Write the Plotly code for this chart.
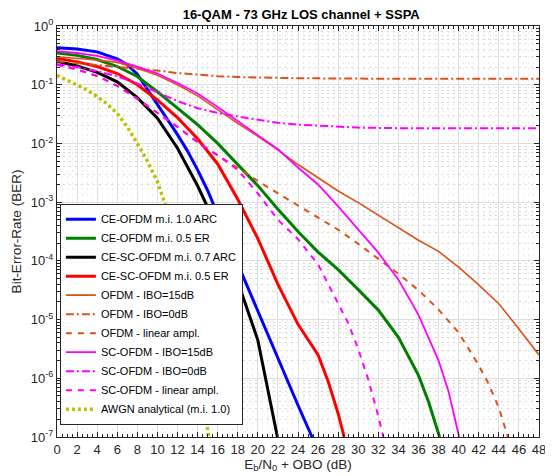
import plotly.graph_objects as go

# ---------------- data ----------------
x_ce_ofdm_arc = [0, 2, 4, 6, 7, 8, 9, 10, 11, 12, 13, 14, 15, 16, 17, 18, 20, 22, 24, 25.4]
ber_ce_ofdm_arc = [0.427, 0.407, 0.363, 0.275, 0.219, 0.151, 0.0832, 0.0468, 0.0263, 0.0141,
                   7.4e-3, 3.55e-3, 1.58e-3, 6.3e-4, 2.4e-4, 8.9e-5, 1.38e-5, 2.19e-6, 3.47e-7, 1e-7]

x_ce_ofdm_er = [0, 2, 4, 6, 8, 10, 12, 14, 16, 18, 20, 22, 24, 26, 28, 30, 32, 34, 36, 37, 38.1]
ber_ce_ofdm_er = [0.347, 0.316, 0.269, 0.204, 0.138, 0.0759, 0.0398, 0.0209, 0.01, 4.37e-3,
                  1.91e-3, 7.6e-4, 3.16e-4, 1.41e-4, 7.08e-5, 3.24e-5, 1.45e-5, 5.0e-6, 1.12e-6,
                  3.98e-7, 1e-7]

x_ce_sc_arc = [0, 2, 4, 6, 8, 10, 12, 14, 16, 18, 20, 21, 21.95]
ber_ce_sc_arc = [0.251, 0.209, 0.162, 0.112, 0.0603, 0.0269, 8.3e-3, 1.9e-3, 3.55e-4, 4.47e-5,
                 4.47e-6, 6.3e-7, 1e-7]

x_ce_sc_er = [0, 2, 4, 6, 8, 10, 12, 14, 16, 18, 20, 22, 24, 26, 27, 28, 28.6]
ber_ce_sc_er = [0.282, 0.245, 0.204, 0.155, 0.1, 0.055, 0.0275, 0.012, 4.47e-3, 1.12e-3,
                2.4e-4, 3.98e-5, 8.3e-6, 2.5e-6, 8.9e-7, 2.5e-7, 1e-7]

x_ofdm_ibo15 = [0, 2, 4, 6, 8, 10, 12, 14, 16, 18, 20, 22, 24, 26, 28, 30, 32, 34, 36, 38,
                40, 42, 44, 46, 48]
ber_ofdm_ibo15 = [0.3, 0.282, 0.263, 0.24, 0.191, 0.145, 0.1, 0.0646, 0.0372, 0.0219, 0.0132,
                  7.76e-3, 4.37e-3, 2.57e-3, 1.55e-3, 9.8e-4, 6.0e-4, 3.7e-4, 2.24e-4, 1.45e-4,
                  7.8e-5, 3.9e-5, 1.86e-5, 6.9e-6, 2.5e-6]

x_ofdm_ibo0 = [0, 2, 4, 6, 8, 10, 12, 14, 16, 18, 20, 24, 30, 36, 48]
ber_ofdm_ibo0 = [0.251, 0.234, 0.219, 0.204, 0.191, 0.174, 0.158, 0.148, 0.14, 0.135, 0.132,
                 0.129, 0.127, 0.126, 0.126]

x_ofdm_lin = [0, 2, 4, 6, 8, 10, 12, 14, 16, 18, 20, 22, 24, 26, 28, 30, 32, 34, 36, 38, 40,
              42, 43, 44, 44.9]
ber_ofdm_lin = [0.219, 0.182, 0.141, 0.0955, 0.0575, 0.0331, 0.0191, 0.0105, 6.3e-3, 3.72e-3,
                2.29e-3, 1.41e-3, 8.7e-4, 5.4e-4, 3.39e-4, 1.95e-4, 1.1e-4, 6.0e-5, 3.16e-5,
                1.48e-5, 6.0e-6, 1.66e-6, 7.9e-7, 3.16e-7, 1e-7]

x_sc_ibo15 = [0, 2, 4, 6, 8, 10, 12, 14, 16, 18, 20, 22, 24, 26, 28, 30, 32, 34, 36, 38, 39, 40.05]
ber_sc_ibo15 = [0.372, 0.347, 0.309, 0.257, 0.204, 0.155, 0.107, 0.0708, 0.0417, 0.024, 0.0138,
                7.94e-3, 3.89e-3, 2.0e-3, 8.5e-4, 3.39e-4, 1.38e-4, 4.79e-5, 1.2e-5, 2.0e-6,
                5.9e-7, 1e-7]

x_sc_ibo0 = [0, 2, 4, 6, 8, 10, 12, 14, 16, 18, 20, 22, 24, 26, 28, 30, 34, 48]
ber_sc_ibo0 = [0.224, 0.2, 0.17, 0.138, 0.105, 0.0741, 0.0525, 0.0398, 0.0331, 0.0288, 0.0251,
               0.0224, 0.0209, 0.02, 0.0191, 0.0186, 0.0182, 0.0182]

x_sc_lin = [0, 2, 4, 6, 8, 10, 12, 14, 16, 18, 20, 22, 24, 26, 28, 29, 30, 31, 32, 32.5]
ber_sc_lin = [0.219, 0.182, 0.141, 0.0955, 0.0575, 0.0331, 0.0191, 0.0105, 6.3e-3, 3.55e-3,
              1.41e-3, 5.0e-4, 2.34e-4, 8.7e-5, 1.9e-5, 8.7e-6, 3.16e-6, 9.5e-7, 2.24e-7, 1e-7]

x_awgn = [0, 1, 2, 3, 4, 5, 6, 7, 8, 9, 10, 11, 12, 13, 14, 15.1]
ber_awgn = [0.145, 0.12, 0.1, 0.0813, 0.0631, 0.0468, 0.0324, 0.0191, 0.01, 5.0e-3, 2.24e-3,
            7.1e-4, 1.58e-4, 2.5e-5, 2.8e-6, 1e-7]

y_tickvals = [1, 1e-1, 1e-2, 1e-3, 1e-4, 1e-5, 1e-6, 1e-7]
y_ticktext = ["10<sup>0</sup>", "10<sup>-1</sup>", "10<sup>-2</sup>", "10<sup>-3</sup>",
              "10<sup>-4</sup>", "10<sup>-5</sup>", "10<sup>-6</sup>", "10<sup>-7</sup>"]

# ---------------- figure ----------------
FONT = "Liberation Sans, Arial, Helvetica, sans-serif"
ORANGE = "#D95319"
MAGENTA = "#FF00FF"

series = [
    ("CE-OFDM m.i. 1.0 ARC", x_ce_ofdm_arc, ber_ce_ofdm_arc, "#0000FF", 3, "solid"),
    ("CE-OFDM m.i. 0.5 ER", x_ce_ofdm_er, ber_ce_ofdm_er, "#008000", 3, "solid"),
    ("CE-SC-OFDM m.i. 0.7 ARC", x_ce_sc_arc, ber_ce_sc_arc, "#000000", 3, "solid"),
    ("CE-SC-OFDM m.i. 0.5 ER", x_ce_sc_er, ber_ce_sc_er, "#FF0000", 3, "solid"),
    ("OFDM - IBO=15dB", x_ofdm_ibo15, ber_ofdm_ibo15, ORANGE, 1.6, "solid"),
    ("OFDM - IBO=0dB", x_ofdm_ibo0, ber_ofdm_ibo0, ORANGE, 2, "8px,3px,2px,3px"),
    ("OFDM - linear ampl.", x_ofdm_lin, ber_ofdm_lin, ORANGE, 2, "6px,6px"),
    ("SC-OFDM - IBO=15dB", x_sc_ibo15, ber_sc_ibo15, MAGENTA, 1.8, "solid"),
    ("SC-OFDM - IBO=0dB", x_sc_ibo0, ber_sc_ibo0, MAGENTA, 2, "8px,3px,2px,3px"),
    ("SC-OFDM - linear ampl.", x_sc_lin, ber_sc_lin, MAGENTA, 2, "6px,6px"),
    ("AWGN analytical (m.i. 1.0)", x_awgn, ber_awgn, "#BFBF00", 3.5, "3px,3px"),
]

fig = go.Figure()
for name, xs, ys, color, width, dash in series:
    fig.add_trace(go.Scatter(x=xs, y=ys, mode="lines", name=name,
                             line=dict(color=color, width=width, dash=dash)))

minor_y = [k * 10.0 ** e for e in range(-7, 0) for k in range(2, 10)]

axis_common = dict(
    showline=True, linecolor="#262626", linewidth=1, mirror="ticks",
    ticks="inside", ticklen=5, tickcolor="#262626",
    showgrid=True, gridcolor="#dedede", gridwidth=1, zeroline=False,
    tickfont=dict(family=FONT, size=13, color="#262626"),
)

fig.update_xaxes(
    range=[0, 48], tick0=0, dtick=2,
    title=dict(text="E<sub>b</sub>/N<sub>0</sub> + OBO (dB)",
               font=dict(family=FONT, size=13.5, color="#262626"), standoff=3),
    minor=dict(dtick=0.5, ticks="inside", ticklen=3, tickcolor="#262626",
               showgrid=True, gridcolor="#ececec", griddash="2px,4px"),
    **axis_common,
)
fig.update_yaxes(
    type="log", range=[-7, 0], tickmode="array", tickvals=y_tickvals, ticktext=y_ticktext,
    title=dict(text="Bit-Error-Rate (BER)",
               font=dict(family=FONT, size=13.5, color="#262626"), standoff=6),
    minor=dict(tickmode="array", tickvals=minor_y, ticks="inside", ticklen=3,
               tickcolor="#262626", showgrid=True, gridcolor="#d6d6d6", griddash="2px,4px"),
    **axis_common,
)

# page body has an 8px margin: the figure is sized/offset so the plot area lands
# where the reference has it in the 553x476 window
fig.update_layout(
    width=545, height=468,
    margin=dict(l=49, r=7, t=18, b=31),
    paper_bgcolor="white", plot_bgcolor="white",
    title=dict(text="<b>16-QAM - 73 GHz LOS channel + SSPA</b>",
               font=dict(family=FONT, size=13, color="#000000"),
               x=0.538, xanchor="center", y=0.986, yanchor="middle"),
    legend=dict(x=0.006, y=0.03, xanchor="left", yanchor="bottom",
                bgcolor="white", bordercolor="#262626", borderwidth=1,
                font=dict(family=FONT, size=11, color="#000000"),
                tracegroupgap=0, itemwidth=30),
    showlegend=True,
)

fig.write_html("out.html")
